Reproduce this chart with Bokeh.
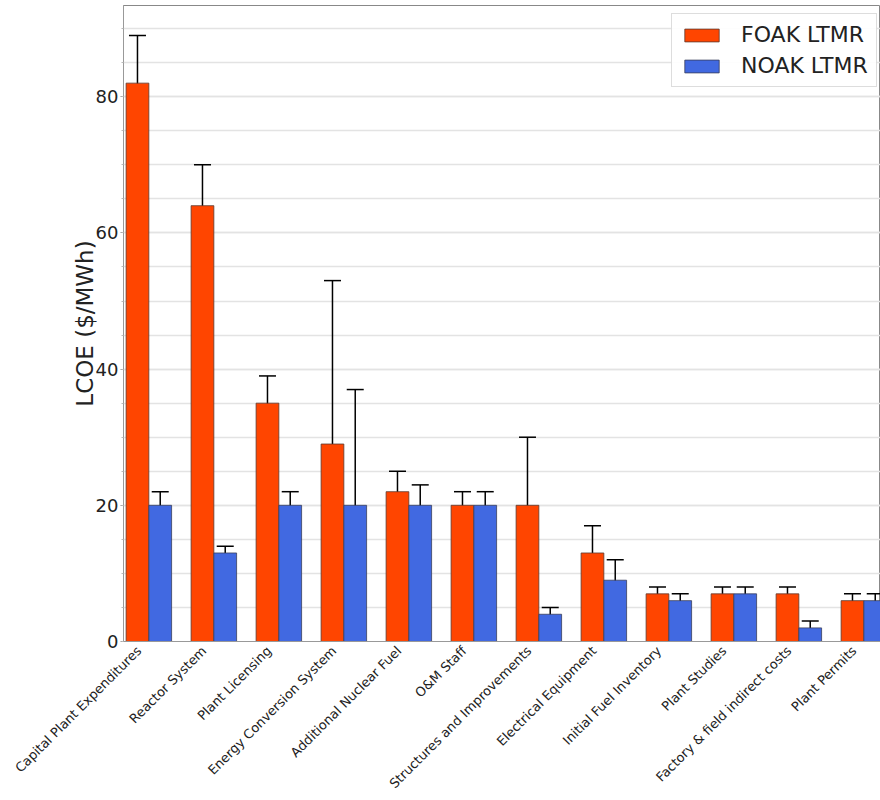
from bokeh.plotting import figure
from bokeh.models import (ColumnDataSource, Range1d, FixedTicker, Whisker, TeeHead,
                          Legend, LegendItem, SingleIntervalTicker)
from bokeh.transform import dodge
from bokeh.embed import file_html
from bokeh.resources import INLINE
import math

categories = ["Capital Plant Expenditures", "Reactor System", "Plant Licensing",
              "Energy Conversion System", "Additional Nuclear Fuel", "O&M Staff",
              "Structures and Improvements", "Electrical Equipment", "Initial Fuel Inventory",
              "Plant Studies", "Factory & field indirect costs", "Plant Permits"]
foak = [82, 64, 35, 29, 22, 20, 20, 13, 7, 7, 7, 6]
foak_low = [75, 58, 31, 5, 19, 18, 10, 9, 6, 6, 6, 5]
foak_high = [89, 70, 39, 53, 25, 22, 30, 17, 8, 8, 8, 7]
noak = [20, 13, 20, 20, 20, 20, 4, 9, 6, 7, 2, 6]
noak_low = [18, 12, 18, 3, 17, 18, 3, 6, 5, 6, 1, 5]
noak_high = [22, 14, 22, 37, 23, 22, 5, 12, 7, 8, 3, 7]

FONT = "DejaVu Sans"
BAR_W = 0.35
LABEL_SHIFT = 0.15  # rotated labels end slightly left of the group centre

src = ColumnDataSource(dict(
    x=list(range(len(categories))),
    foak=foak, foak_low=foak_low, foak_high=foak_high,
    noak=noak, noak_low=noak_low, noak_high=noak_high,
))

p = figure(width=880, height=800, output_backend="svg", toolbar_location=None,
           x_range=Range1d(-0.39, 11.256), y_range=Range1d(0, 93.4),
           min_border_left=123, min_border_right=0, min_border_top=5, min_border_bottom=159)

r_f = p.vbar(x=dodge("x", -BAR_W / 2, range=p.x_range), top="foak", width=BAR_W, source=src,
             fill_color="#FF4500", line_color="#5a3a30", line_width=0.8)
r_n = p.vbar(x=dodge("x", BAR_W / 2, range=p.x_range), top="noak", width=BAR_W, source=src,
             fill_color="#4169E1", line_color="#3a3f5a", line_width=0.8)

for off, lo, hi in [(-BAR_W / 2, "foak_low", "foak_high"), (BAR_W / 2, "noak_low", "noak_high")]:
    w = Whisker(source=src, base=dodge("x", off, range=p.x_range), lower=lo, upper=hi,
                line_color="black", line_width=1.5,
                upper_head=TeeHead(size=17, line_color="black", line_width=1.5),
                lower_head=TeeHead(size=17, line_color="black", line_width=1.5))
    p.add_layout(w)

tick_pos = [i - LABEL_SHIFT for i in range(len(categories))]
p.xaxis.ticker = FixedTicker(ticks=tick_pos)
p.xaxis.major_label_overrides = {t: c for t, c in zip(tick_pos, categories)}
p.xaxis.major_label_orientation = math.pi / 4
p.xaxis.major_label_text_font = FONT
p.xaxis.major_label_text_font_size = "13px"
p.xaxis.major_label_text_color = "#222222"
p.xaxis.major_tick_line_color = None
p.xaxis.major_tick_out = 0
p.xaxis.major_tick_in = 0
p.xaxis.minor_tick_line_color = None
p.xaxis.axis_line_color = "#999999"
p.xaxis.major_label_standoff = 7

p.yaxis.ticker = SingleIntervalTicker(interval=20, num_minor_ticks=4)
p.yaxis.major_label_text_font = FONT
p.yaxis.major_label_text_font_size = "18px"
p.yaxis.major_label_text_color = "#222222"
p.yaxis.major_label_standoff = 2
p.yaxis.axis_label = "LCOE ($/MWh)"
p.yaxis.axis_label_text_font = FONT
p.yaxis.axis_label_text_font_size = "23px"
p.yaxis.axis_label_text_font_style = "normal"
p.yaxis.axis_label_text_color = "#222222"
p.yaxis.axis_label_standoff = -5
p.yaxis.axis_line_color = "#999999"
p.yaxis.major_tick_line_color = "#999999"
p.yaxis.minor_tick_line_color = "#bbbbbb"
p.yaxis.major_tick_out = 3
p.yaxis.major_tick_in = 0
p.yaxis.minor_tick_out = 2
p.yaxis.minor_tick_in = 0

p.xgrid.grid_line_color = None
p.ygrid.grid_line_color = "#e3e3e3"
p.ygrid.minor_grid_line_color = "#e3e3e3"
p.ygrid.grid_line_width = 1.5
p.ygrid.minor_grid_line_width = 1.5

p.outline_line_color = "#888888"
p.outline_line_width = 1

legend = Legend(items=[LegendItem(label="FOAK LTMR", renderers=[r_f]),
                       LegendItem(label="NOAK LTMR", renderers=[r_n])],
                location=(548, 554))
legend.label_text_font = FONT
legend.label_text_font_size = "22px"
legend.label_text_color = "#222222"
legend.glyph_width = 43
legend.glyph_height = 16
legend.label_standoff = 18
legend.spacing = 6
legend.padding = 8
legend.margin = 0
legend.border_line_color = "#bbbbbb"
legend.border_line_width = 1
legend.background_fill_alpha = 0.9
p.add_layout(legend)

open("out.html", "w").write(file_html(p, INLINE))
